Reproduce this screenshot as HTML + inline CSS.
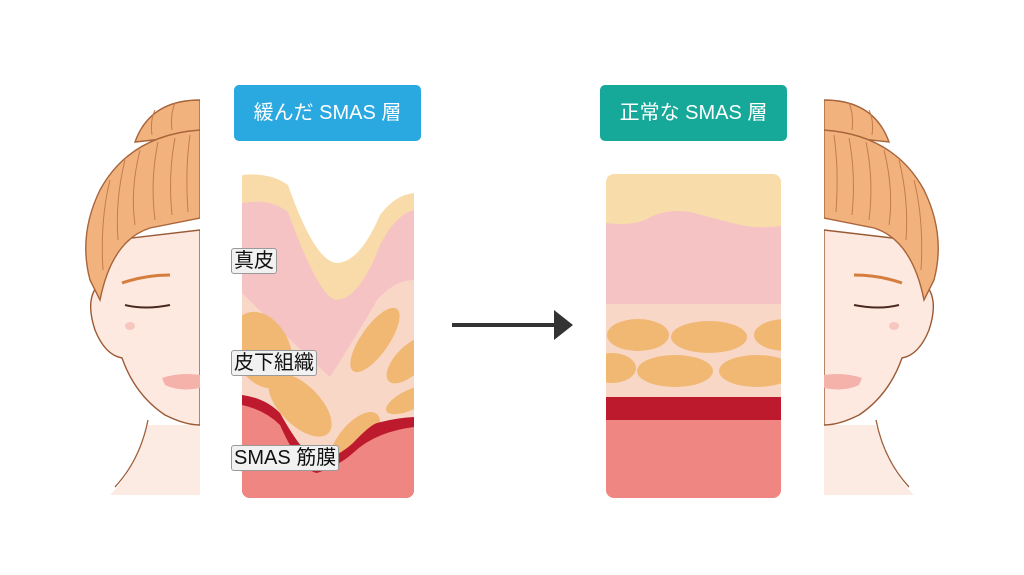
<!DOCTYPE html>
<html><head><meta charset="utf-8"><style>
html,body{margin:0;padding:0;background:#fff;}
body{width:1024px;height:575px;position:relative;overflow:hidden;font-family:"Liberation Sans","Noto Sans CJK JP",sans-serif;}
.tag{position:absolute;color:#fff;font-size:20px;text-align:center;line-height:56px;border-radius:5px;}
.lab{position:absolute;background:#f1f1f1;border:1px solid #9a9a9a;border-radius:3px;font-size:20px;line-height:24px;padding:0 2px;color:#111;}
</style></head><body>
<svg width="1024" height="575" style="position:absolute;left:0;top:0">
<defs>
<clipPath id="lp"><rect x="242" y="170" width="172" height="328" rx="8"/></clipPath>
<clipPath id="rp"><rect x="606" y="174" width="175" height="324" rx="8"/></clipPath>
<clipPath id="half"><rect x="0" y="0" width="200" height="575"/></clipPath>
<g id="face">
<path d="M148,425 L200,425 L200,495 L110,495 Q135,470 148,425Z" fill="#fcebe3"/>
<path d="M148,420 Q140,460 115,487" stroke="#a0603a" stroke-width="1.3" fill="none"/>
<path d="M98,285 Q85,300 95,330 Q105,355 122,358 Q135,395 165,415 Q185,425 200,425 L200,230 L115,240Z" fill="#fde9e0" stroke="#9a5a35" stroke-width="1.4"/>
<path d="M135,142 Q150,100 200,100 L200,135Z" fill="#f2b27e" stroke="#a8643a" stroke-width="1.4"/>
<path d="M200,130 Q130,135 100,190 Q78,235 90,280 L100,300 Q112,240 150,228 Q180,222 200,218Z" fill="#f2b27e" stroke="#a8643a" stroke-width="1.4"/>
<g stroke="#c47c4a" stroke-width="1" fill="none">
<path d="M110,180 Q100,220 103,270"/><path d="M125,160 Q115,200 118,240"/><path d="M140,150 Q130,190 135,225"/><path d="M158,142 Q150,180 155,220"/><path d="M175,138 Q168,175 172,215"/><path d="M190,135 Q185,170 188,212"/>
<path d="M155,110 Q150,120 152,135"/><path d="M175,103 Q170,115 172,130"/>
</g>
<path d="M122,283 Q145,275 170,275" stroke="#d57d3c" stroke-width="3" fill="none"/>
<path d="M125,305 Q145,310 170,305" stroke="#4a2a20" stroke-width="2" fill="none"/>
<ellipse cx="130" cy="326" rx="5" ry="4" fill="#f6c6bf"/>
<path d="M162,378 Q180,372 200,375 L200,388 Q180,392 165,385Z" fill="#f4b2aa"/>
</g>
</defs>
<g clip-path="url(#half)"><use href="#face"/></g>
<g transform="translate(1024,0) scale(-1,1)"><g clip-path="url(#half)"><use href="#face"/></g></g>

<g clip-path="url(#lp)">
<path d="M242,175 Q270,172 288,185 Q315,262 337,263 Q360,262 380,215 Q395,195 414,193 L414,500 L242,500Z" fill="#f8dba9"/>
<path d="M242,203 Q270,198 288,212 Q320,300 337,300 Q360,298 380,245 Q395,215 414,210 L414,500 L242,500Z" fill="#f5c3c4"/>
<path d="M242,293 Q290,340 330,377 Q360,330 377,300 Q395,280 414,280 L414,500 L242,500Z" fill="#f9d7c7"/>
<g fill="#f0b873">
<ellipse cx="262" cy="350" rx="28" ry="40" transform="rotate(-25 262 350)"/>
<ellipse cx="300" cy="405" rx="20" ry="40" transform="rotate(-45 300 405)"/>
<ellipse cx="375" cy="340" rx="14" ry="38" transform="rotate(35 375 340)"/>
<ellipse cx="410" cy="360" rx="14" ry="30" transform="rotate(45 410 360)"/>
<ellipse cx="410" cy="400" rx="10" ry="26" transform="rotate(65 410 400)"/>
<ellipse cx="355" cy="440" rx="16" ry="34" transform="rotate(40 355 440)"/>
</g>
<path d="M242,395 Q265,398 280,413 Q305,458 320,462 Q340,455 353,443 Q370,425 377,423 Q395,418 414,417 L414,500 L242,500Z" fill="#bd1a2e"/>
<path d="M242,405 Q265,410 280,425 Q300,470 317,473 Q340,465 353,453 Q375,432 414,427 L414,500 L242,500Z" fill="#ef8682"/>
</g>

<g clip-path="url(#rp)">
<rect x="606" y="174" width="175" height="324" fill="#f8dca9"/>
<path d="M606,223 Q630,226 645,220 Q665,208 690,212 Q720,220 740,225 Q760,229 781,226 L781,305 L606,305Z" fill="#f5c3c4"/>
<rect x="606" y="304" width="175" height="94" fill="#f9d7c7"/>
<g fill="#f0b873">
<ellipse cx="638" cy="335" rx="31" ry="16"/><ellipse cx="709" cy="337" rx="38" ry="16"/><ellipse cx="786" cy="335" rx="32" ry="16"/>
<ellipse cx="612" cy="368" rx="24" ry="15"/><ellipse cx="675" cy="371" rx="38" ry="16"/><ellipse cx="757" cy="371" rx="38" ry="16"/>
</g>
<rect x="606" y="397" width="175" height="24" fill="#bd1a2e"/>
<rect x="606" y="420" width="175" height="80" fill="#ef8682"/>
</g>

<line x1="452" y1="325" x2="556" y2="325" stroke="#333" stroke-width="4"/>
<polygon points="554,310 573,325 554,340" fill="#333"/>
</svg>
<div class="tag" style="left:234px;top:85px;width:187px;height:56px;background:#2aa8e0">緩んだ SMAS 層</div>
<div class="tag" style="left:600px;top:85px;width:187px;height:56px;background:#16a898">正常な SMAS 層</div>
<div class="lab" style="left:231px;top:248px">真皮</div>
<div class="lab" style="left:231px;top:350px">皮下組織</div>
<div class="lab" style="left:231px;top:445px">SMAS 筋膜</div>
</body></html>
